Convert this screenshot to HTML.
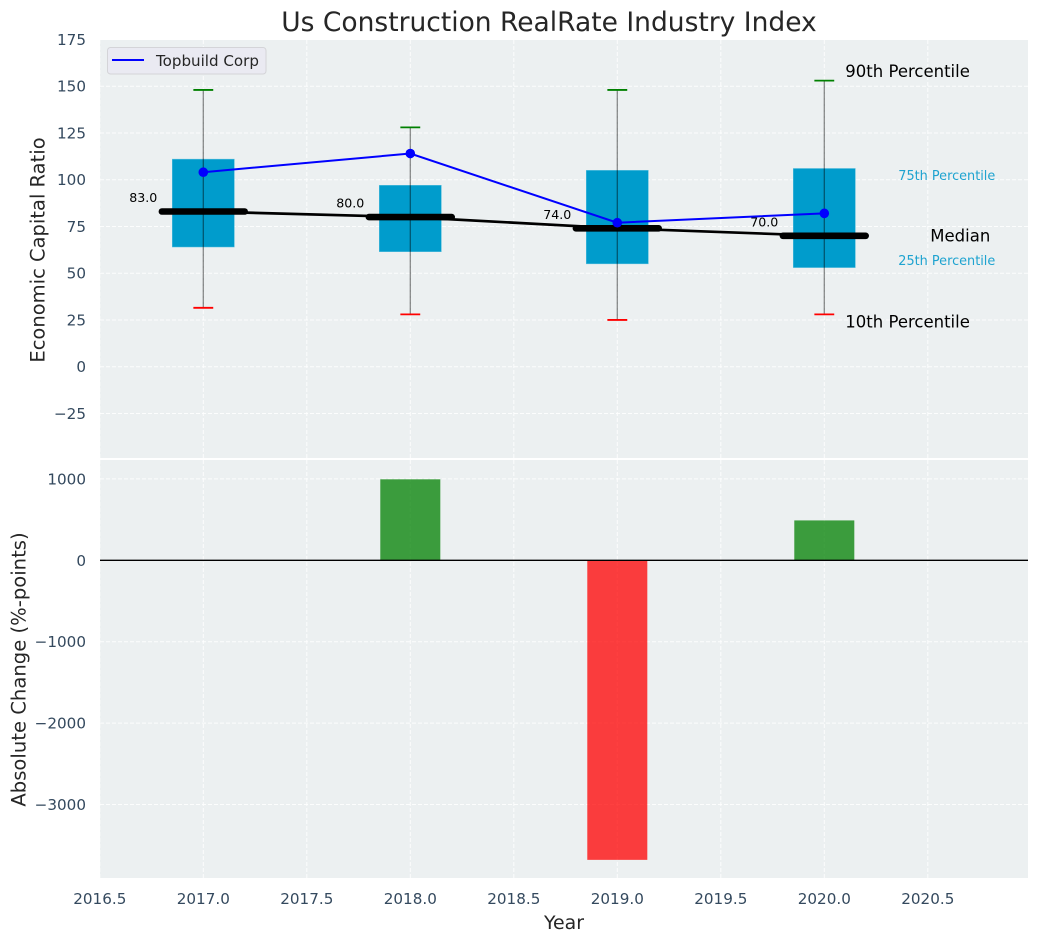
<!DOCTYPE html>
<html>
<head>
<meta charset="utf-8">
<title>Us Construction RealRate Industry Index</title>
<style>
html,body{margin:0;padding:0;background:#fff;width:1039px;height:942px;overflow:hidden}
svg{display:block;font-family:"DejaVu Sans","Liberation Sans",sans-serif}
</style>
</head>
<body>
<svg id="chart" xmlns="http://www.w3.org/2000/svg" width="1039" height="942" viewBox="0 0 1039 942"></svg>
<script>
const years = [2017, 2018, 2019, 2020];
const p90 = [148, 128, 148, 153];
const p75 = [111, 97, 105, 106];
const medians = [83, 80, 74, 70];
const p25 = [64, 61.5, 55, 53];
const p10 = [31.5, 28, 25, 28];
const companyValues = [104, 114, 77, 82];
const changeValues = [0, 995, -3680, 490];
const xTicks = [2016.5, 2017, 2017.5, 2018, 2018.5, 2019, 2019.5, 2020, 2020.5];
const topTicks = [175, 150, 125, 100, 75, 50, 25, 0, -25];
const bottomTicks = [1000, 0, -1000, -2000, -3000];

const NS = 'http://www.w3.org/2000/svg';
const svg = document.getElementById('chart');
const L = 100, R = 1028, T1 = 40, B1 = 458, T2 = 460, B2 = 878;
const x = v => 203.3 + (v - 2017) * 207;
const yTop = v => 366.7 - v * 1.87;
const yBot = v => 560.3 - v * 0.0814;
const fmt = v => String(Math.abs(v)).replace(/^/, v < 0 ? '\u2212' : '');

function mk(tag, attrs, text) {
  const el = document.createElementNS(NS, tag);
  for (const k in attrs) el.setAttribute(k, attrs[k]);
  if (text !== undefined) el.textContent = text;
  svg.appendChild(el);
  return el;
}
let el;

el = mk('rect', {x: L, y: T1, width: R - L, height: B1 - T1, fill: '#ecf0f1'});


el = mk('rect', {x: L, y: T2, width: R - L, height: B2 - T2, fill: '#ecf0f1'});



const gridStyle = {stroke: '#ffffff', 'stroke-width': 1, 'stroke-dasharray': '4 2', 'stroke-opacity': 0.85};

xTicks.forEach(t => {
  el = mk('line', {x1: x(t), x2: x(t), y1: T1, y2: B1, ...gridStyle});
  
  
  el = mk('line', {x1: x(t), x2: x(t), y1: T2, y2: B2, ...gridStyle});
  
  
  el = mk('text', {x: x(t), y: 904, 'text-anchor': 'middle', 'font-size': 15.2, fill: '#34495e'}, t.toFixed(1));
  
  
});

topTicks.forEach(t => {
  el = mk('line', {x1: L, x2: R, y1: yTop(t), y2: yTop(t), ...gridStyle});
  
  
  el = mk('text', {x: 86, y: yTop(t) + 5.5, 'text-anchor': 'end', 'font-size': 15.2, fill: '#34495e'}, fmt(t));
  
  
});

bottomTicks.forEach(t => {
  el = mk('line', {x1: L, x2: R, y1: yBot(t), y2: yBot(t), ...gridStyle});
  
  
  el = mk('text', {x: 86, y: yBot(t) + 5.5, 'text-anchor': 'end', 'font-size': 15.2, fill: '#34495e'}, fmt(t));
  
  
});

/* boxes */
years.forEach((yr, i) => {
  el = mk('rect', {x: x(yr - 0.15), y: yTop(p75[i]), width: x(yr + 0.15) - x(yr - 0.15), height: yTop(p25[i]) - yTop(p75[i]), fill: '#009ccc', stroke: '#5cc0de', 'stroke-width': 0.5});
  
  
});

/* median connecting line */
el = mk('polyline', {points: years.map((yr, i) => x(yr) + ',' + yTop(medians[i])).join(' '), fill: 'none', stroke: '#000', 'stroke-width': 2.7});



/* medians */
years.forEach((yr, i) => {
  el = mk('line', {x1: x(yr - 0.2), x2: x(yr + 0.2), y1: yTop(medians[i]), y2: yTop(medians[i]), stroke: '#000', 'stroke-width': 6.6, 'stroke-linecap': 'round'});
  
  
  el = mk('text', {x: x(yr - 0.29), y: yTop(medians[i]) - 9.5, 'text-anchor': 'middle', 'font-size': 12.6, fill: '#000'}, medians[i].toFixed(1));
  
  
});

/* whiskers */
years.forEach((yr, i) => {
  el = mk('line', {x1: x(yr), x2: x(yr), y1: yTop(p90[i]), y2: yTop(p10[i]), stroke: '#000', 'stroke-opacity': 0.45, 'stroke-width': 1.3});
  
  
  el = mk('line', {x1: x(yr - 0.048), x2: x(yr + 0.048), y1: yTop(p90[i]), y2: yTop(p90[i]), stroke: '#008000', 'stroke-width': 1.8});
  
  
  el = mk('line', {x1: x(yr - 0.048), x2: x(yr + 0.048), y1: yTop(p10[i]), y2: yTop(p10[i]), stroke: '#ff0000', 'stroke-width': 1.8});
  
  
});

/* company line */
el = mk('polyline', {points: years.map((yr, i) => x(yr) + ',' + yTop(companyValues[i])).join(' '), fill: 'none', stroke: '#0000ff', 'stroke-width': 2});


years.forEach((yr, i) => {
  el = mk('circle', {cx: x(yr), cy: yTop(companyValues[i]), r: 4.8, fill: '#0000ff'});
  
  
});

/* percentile annotations on last box */
const last = years.length - 1;
const lastX = x(years[last]);
el = mk('text', {x: lastX + 21, y: yTop(p90[last]) - 3.5, 'font-size': 16.5, fill: '#000'}, '90th Percentile');


el = mk('text', {x: lastX + 74, y: yTop(p75[last]) + 11.5, 'font-size': 12.85, fill: '#1ea3d0'}, '75th Percentile');


el = mk('text', {x: lastX + 106, y: yTop(medians[last]) + 5.5, 'font-size': 16.5, fill: '#000'}, 'Median');


el = mk('text', {x: lastX + 74, y: yTop(p25[last]) - 2.5, 'font-size': 12.85, fill: '#1ea3d0'}, '25th Percentile');


el = mk('text', {x: lastX + 21, y: yTop(p10[last]) + 13, 'font-size': 16.5, fill: '#000'}, '10th Percentile');



/* change bars */
years.forEach((yr, i) => {
  const v = changeValues[i];
  if (v === 0) return;
  const top = Math.min(yBot(v), yBot(0));
  el = mk('rect', {x: x(yr - 0.145), y: top, width: x(yr + 0.145) - x(yr - 0.145), height: Math.abs(yBot(v) - yBot(0)), fill: v > 0 ? '#008000' : '#ff0000', 'fill-opacity': 0.75});
  
  
});

el = mk('line', {x1: L, x2: R, y1: yBot(0), y2: yBot(0), stroke: '#000', 'stroke-width': 1.3});



/* legend */
el = mk('rect', {x: 107.5, y: 47.5, width: 158.5, height: 26.5, rx: 3, fill: '#eaeaf2', stroke: '#d4d4d8', 'stroke-width': 1});


el = mk('line', {x1: 112, x2: 144, y1: 60, y2: 60, stroke: '#0000ff', 'stroke-width': 2});


el = mk('text', {x: 156, y: 66, 'font-size': 15.1, fill: '#262626'}, 'Topbuild Corp');



/* titles */
el = mk('text', {x: 549, y: 31, 'text-anchor': 'middle', 'font-size': 26.5, fill: '#262626'}, 'Us Construction RealRate Industry Index');


el = mk('text', {x: 564, y: 929, 'text-anchor': 'middle', 'font-size': 18.9, fill: '#262626'}, 'Year');


el = mk('text', {transform: 'translate(44.5 250) rotate(-90)', 'text-anchor': 'middle', 'font-size': 19.5, fill: '#262626'}, 'Economic Capital Ratio');


el = mk('text', {transform: 'translate(25.5 669.5) rotate(-90)', 'text-anchor': 'middle', 'font-size': 19.6, fill: '#262626'}, 'Absolute Change (%-points)');


</script>
</body>
</html>
